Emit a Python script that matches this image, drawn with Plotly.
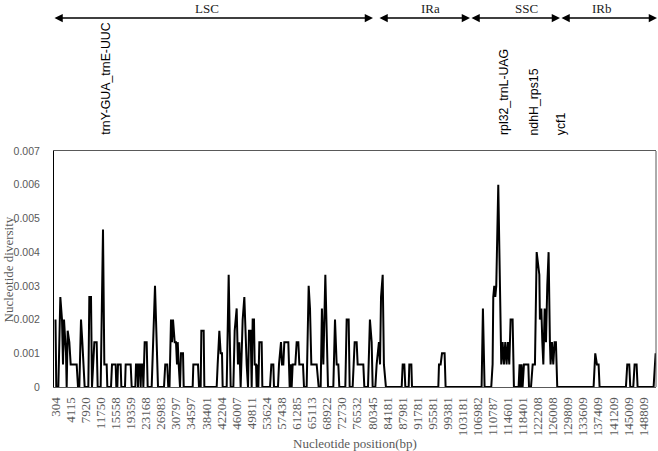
import plotly.graph_objects as go

# Tick labels on the x axis (window start positions, bp)
x_tick_positions = [304, 4115, 7920, 11750, 15558, 19359, 23168, 26983, 30797, 34597,
                    38401, 42204, 46007, 49811, 53624, 57438, 61285, 65113, 68922, 72730,
                    76532, 80345, 84181, 87981, 91781, 95581, 99381, 103181, 106982, 110787,
                    114601, 118401, 122208, 126008, 129809, 133609, 137409, 141209, 145009, 148809]

y_tick_values = [0, 0.001, 0.002, 0.003, 0.004, 0.005, 0.006, 0.007]
y_tick_labels = ["0", "0.001", "0.002", "0.003", "0.004", "0.005", "0.006", "0.007"]

# Nucleotide diversity (Pi) along the genome
position = [
    304, 500, 1020, 1525, 1946, 2199, 2451, 2704, 2957, 3125, 3378, 3798, 4136, 5652, 5988,
    6324, 6746, 7082, 7420, 7673, 8597, 8850, 9272, 9524, 10113, 10703, 10956, 11714, 12303,
    12639, 13230, 13398, 14324, 14576, 15503, 15672, 15924, 16092, 16766, 16934, 17860, 18029,
    19292, 19544, 20470, 20639, 20975, 21144, 21312, 21649, 21818, 21985, 22323, 22491, 22829,
    23334, 23587, 24597, 25438, 26196, 27711, 28028, 28533, 28786, 29101, 29480, 29733, 29985,
    30414, 30743, 30996, 31173, 31425, 31753, 32006, 32512, 32689, 34954, 35122, 36300, 36552,
    36974, 37142, 37731, 37900, 41015, 41268, 41689, 42026, 42362, 42531, 43541, 44046, 44551,
    45225, 45562, 46067, 46399, 46735, 47072, 47414, 47583, 48004, 48340, 48593, 48930, 49183,
    49604, 49857, 50109, 50441, 50614, 50951, 51119, 51287, 51540, 51793, 52382, 52551, 54487,
    54823, 55329, 55495, 56506, 56759, 57265, 57518, 57854, 58106, 59117, 59455, 59707, 59960,
    60213, 60885, 61221, 61642, 61894, 62822, 63074, 63748, 64253, 64591, 64927, 66275, 66780,
    67285, 67602, 67960, 68465, 69138, 70481, 70906, 71324, 71745, 71998, 73514, 73850, 74356,
    74608, 75365, 75871, 76376, 76629, 78060, 78313, 79241, 79726, 80166, 80419, 81092, 81426,
    82005, 82279, 82531, 82952, 83263, 83769, 87749, 88002, 88422, 88673, 89517, 89682, 90191,
    90356, 97005, 97171, 97592, 97934, 98590, 98843, 107937, 108271, 108690, 110374, 110716,
    110884, 111136, 111389, 111642, 112147, 112652, 112905, 113241, 113579, 113916, 114252,
    114590, 114926, 115263, 115770, 116100, 117281, 117534, 117786, 118039, 118292, 118635,
    119738, 119910, 120415, 120836, 121410, 121848, 122165, 122520, 122667, 123024, 123276,
    123529, 123866, 124200, 124524, 124862, 125195, 125364, 125700, 126037, 126374, 126711,
    127047, 136225, 136645, 137066, 137488, 137740, 144395, 144732, 145237, 145490, 146247,
    146585, 147090, 147342, 151384, 151900,
]
diversity = [
    0.002, 0, 0, 0.00267, 0.002, 0.00067, 0.002, 0.00133, 0.001, 0, 0.00167, 0.00133, 0.00067, 0.00067, 0,
    0, 0.002, 0.00133, 0.00067, 0, 0, 0.00267, 0.00267, 0, 0.00133, 0.00133, 0, 0, 0.00467,
    0.00067, 0.00067, 0, 0, 0.00067, 0.00067, 0, 0, 0.00067, 0.00067, 0, 0, 0.00067,
    0.00067, 0, 0, 0.00067, 0.00067, 0, 0.00067, 0.00067, 0, 0.00067, 0.00067, 0, 0.00133,
    0.00133, 0, 0, 0.003, 0, 0, 0.00067, 0.00067, 0, 0, 0.002, 0.00133, 0.002,
    0.00133, 0.00133, 0.00067, 0.00133, 0.00067, 0, 0.001, 0.001, 0, 0, 0.00067, 0.00067, 0,
    0, 0.00167, 0.00167, 0, 0, 0.00067, 0.00167, 0.001, 0.001, 0, 0, 0.00333, 0,
    0, 0.00167, 0.00233, 0.00067, 0.00133, 0, 0.00133, 0.002, 0.00267, 0.00133, 0.00067, 0, 0.00167,
    0.00167, 0, 0.002, 0.002, 0.00067, 0.00067, 0, 0.00067, 0, 0.00133, 0.00133, 0, 0,
    0.00067, 0.00067, 0, 0, 0.00067, 0.00133, 0.00067, 0.00067, 0.00133, 0.00133, 0, 0.00067, 0,
    0.00067, 0.00067, 0.00133, 0.00133, 0.00067, 0.00067, 0, 0, 0.003, 0.00233, 0.00067, 0.00067, 0,
    0, 0.00233, 0.00067, 0.00333, 0, 0, 0.002, 0.00067, 0.00067, 0, 0, 0.002, 0.002,
    0, 0, 0.00133, 0.00133, 0.00067, 0.00067, 0, 0, 0.002, 0.00133, 0, 0, 0.00067,
    0.00133, 0.00067, 0.00267, 0.00333, 0.00067, 0, 0, 0.00067, 0.00067, 0, 0, 0.00067, 0.00067,
    0, 0, 0.00067, 0.00067, 0.001, 0.001, 0, 0, 0.00233, 0, 0, 0.00067,
    0.00267, 0.003, 0.00267, 0.003, 0.006, 0.00133, 0.00067, 0.00133, 0.00067, 0.00133, 0.00067,
    0.00133, 0.00067, 0.002, 0.002, 0, 0, 0.00067, 0, 0.00067, 0, 0.00067,
    0.00067, 0, 0, 0.00067, 0.00067, 0.004, 0.00367, 0.00333, 0.002, 0.00233, 0.00133,
    0.00067, 0.00233, 0.00133, 0.003, 0.004, 0.00133, 0.00067, 0.00133, 0.00067, 0.00133, 0.00133,
    0, 0, 0.001, 0.00067, 0.00067, 0, 0, 0.00067, 0.00067, 0, 0,
    0.00067, 0.00067, 0, 0, 0.001,
]

# Genome regions (paper-x start/end) and highlighted loci
region_names = ["LSC", "IRa", "SSC", "IRb"]
region_start = [-0.0017, 0.5382, 0.6910, 0.8405]
region_end = [0.5299, 0.6910, 0.8405, 1.0017]
region_label_x = [0.2542, 0.6246, 0.7857, 0.9103]

locus_names = ["trnY-GUA_trnE-UUC", "rpl32_trnL-UAG", "ndhH_rps15", "ycf1"]
locus_x = [0.0859, 0.7475, 0.7973, 0.8417]

GRAY = "#595959"
W, H = 658, 451
ML, MR, MT, MB = 54, 2, 151, 64
PW = W - ML - MR
PH = H - MT - MB
BOTTOM = MT + PH  # pixel row of the x axis

fig = go.Figure()
fig.add_trace(go.Scatter(x=position, y=diversity, mode="lines",
                         line=dict(color="black", width=2), hoverinfo="skip",
                         showlegend=False))

annotations = []
arrow_y = (BOTTOM - 18) / PH
for name, s, e, lx in zip(region_names, region_start, region_end, region_label_x):
    annotations.append(dict(
        xref="paper", yref="paper", x=e, y=arrow_y, ax=(s - e) * PW, ay=0,
        axref="pixel", ayref="pixel", text="", showarrow=True,
        arrowside="end+start", arrowhead=2, startarrowhead=2,
        arrowsize=1.1, startarrowsize=1.1, arrowwidth=1.5, arrowcolor="black",
        standoff=0, startstandoff=0))
    annotations.append(dict(
        xref="paper", yref="paper", x=lx, y=(BOTTOM - 8) / PH, text=name, showarrow=False,
        xanchor="center", yanchor="middle",
        font=dict(family="Liberation Serif", size=13, color="#222222")))

for name, lx in zip(locus_names, locus_x):
    annotations.append(dict(
        xref="paper", yref="paper", x=lx, y=(BOTTOM - 137) / PH, text=name, showarrow=False,
        textangle=-90, xanchor="center", yanchor="bottom",
        font=dict(family="Liberation Sans", size=12.3, color="black")))

annotations.append(dict(
    xref="paper", yref="paper", x=0.5, y=(BOTTOM - 443) / PH, text="Nucleotide position(bp)",
    showarrow=False, xanchor="center", yanchor="middle",
    font=dict(family="Liberation Serif", size=13, color=GRAY)))
annotations.append(dict(
    xref="paper", yref="paper", x=(7.5 - ML) / PW, y=0.5, text="Nucleotide diversity",
    showarrow=False, textangle=-90, xanchor="center", yanchor="middle",
    font=dict(family="Liberation Serif", size=13, color=GRAY)))

fig.update_layout(
    template="none",
    width=W, height=H, autosize=False,
    margin=dict(l=ML, r=MR, t=MT, b=MB, pad=0, autoexpand=False),
    paper_bgcolor="white", plot_bgcolor="white",
    font=dict(color=GRAY),
    annotations=annotations,
    shapes=[dict(type="line", xref="paper", yref="paper", x0=1, x1=1, y0=0, y1=1,
                 line=dict(color=GRAY, width=1))],
    xaxis=dict(range=[-75, 151990], tickmode="array", tickvals=x_tick_positions,
               ticktext=[str(v) for v in x_tick_positions], tickangle=-90,
               tickfont=dict(family="Liberation Serif", size=13, color=GRAY),
               showgrid=False, zeroline=False, showline=True, mirror=True,
               linecolor=GRAY, linewidth=1, ticks="", ticklabelstandoff=4),
    yaxis=dict(range=[0, 0.007], tickmode="array", tickvals=y_tick_values,
               ticktext=y_tick_labels,
               tickfont=dict(family="Liberation Sans", size=10.5, color=GRAY),
               showgrid=False, zeroline=False, showline=True, mirror=False,
               linecolor="black", linewidth=1, ticks="", ticklabelstandoff=11),
)

fig.write_html(
    "out.html",
    config={"displayModeBar": False},
    post_script="document.body.style.margin='0';document.body.style.overflow='hidden';",
)
